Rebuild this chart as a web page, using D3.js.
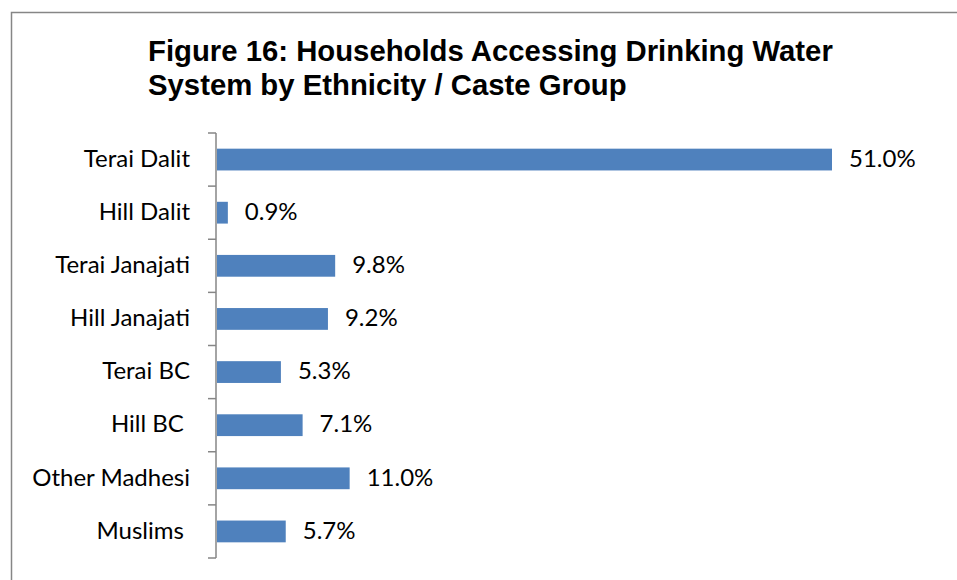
<!DOCTYPE html>
<html>
<head>
<meta charset="utf-8">
<script src="https://cdn.jsdelivr.net/npm/d3@7"></script>
<style>
  html, body { margin: 0; padding: 0; background: #fff; }
  svg { display: block; }
</style>
</head>
<body>
<div id="chart"></div>
<script>
// Share of households accessing a drinking water system, by group
const categories = ["Terai Dalit", "Hill Dalit", "Terai Janajati", "Hill Janajati", "Terai BC", "Hill BC ", "Other Madhesi", "Muslims "];
const values = [51.0, 0.9, 9.8, 9.2, 5.3, 7.1, 11.0, 5.7];
const valueLabels = ["51.0%", "0.9%", "9.8%", "9.2%", "5.3%", "7.1%", "11.0%", "5.7%"];
const titleLines = ["Figure 16: Households Accessing Drinking Water", "System by Ethnicity / Caste Group"];

const W = 957, H = 580;
const svg = d3.select("#chart").append("svg").attr("width", W).attr("height", H);

// chart frame
svg.append("rect")
  .attr("x", 11.5).attr("y", 12.5)
  .attr("width", 1000).attr("height", 1000)
  .attr("fill", "none").attr("stroke", "#868686").attr("stroke-width", 1.5);

// title
const title = svg.append("text")
  .attr("font-family", "'Liberation Sans', Arial, sans-serif")
  .attr("font-weight", "bold").attr("font-size", 29.3).attr("fill", "#000");
title.selectAll("tspan").data(titleLines).join("tspan")
  .attr("x", 148).attr("y", (d, i) => 61 + i * 34).text(d => d);

const x = d3.scaleLinear().domain([0, 51]).range([217, 832]);
const y = d3.scaleBand().domain(categories).range([133, 558]).paddingInner(0.59).paddingOuter(0.295);
const yAxisBand = d3.scaleBand().domain(categories).range([133, 558]);

const labelFont = "Lato, Carlito, 'Open Sans', sans-serif";

// bars
svg.append("g").selectAll("rect").data(values).join("rect")
  .attr("x", x(0))
  .attr("y", (d, i) => y(categories[i]))
  .attr("width", d => x(d) - x(0))
  .attr("height", y.bandwidth())
  .attr("fill", "#4f81bd");

// value labels
svg.append("g").selectAll("text").data(values).join("text")
  .attr("x", d => x(d) + 17)
  .attr("y", (d, i) => yAxisBand(categories[i]) + yAxisBand.bandwidth() / 2)
  .attr("dy", "0.3em")
  .attr("font-family", labelFont)
  .attr("font-size", 24).attr("fill", "#000")
  .text((d, i) => valueLabels[i]);

// category axis: vertical line with outward ticks at band boundaries
const axis = svg.append("g").attr("stroke", "#868686").attr("stroke-width", 1.5).attr("fill", "none");
axis.append("line").attr("x1", 216).attr("x2", 216).attr("y1", 133).attr("y2", 558);
const boundaries = categories.map(c => yAxisBand(c)).concat([558]);
axis.selectAll("line.tick").data(boundaries).join("line").attr("class", "tick")
  .attr("x1", 208).attr("x2", 216).attr("y1", d => d).attr("y2", d => d);

// category labels
svg.append("g").selectAll("text").data(categories).join("text")
  .attr("x", 190)
  .attr("y", d => yAxisBand(d) + yAxisBand.bandwidth() / 2)
  .attr("dy", "0.3em")
  .attr("text-anchor", "end")
  .attr("xml:space", "preserve")
  .style("white-space", "pre")
  .attr("font-family", labelFont)
  .attr("font-size", 24).attr("fill", "#000")
  .text(d => d);
</script>
</body>
</html>
